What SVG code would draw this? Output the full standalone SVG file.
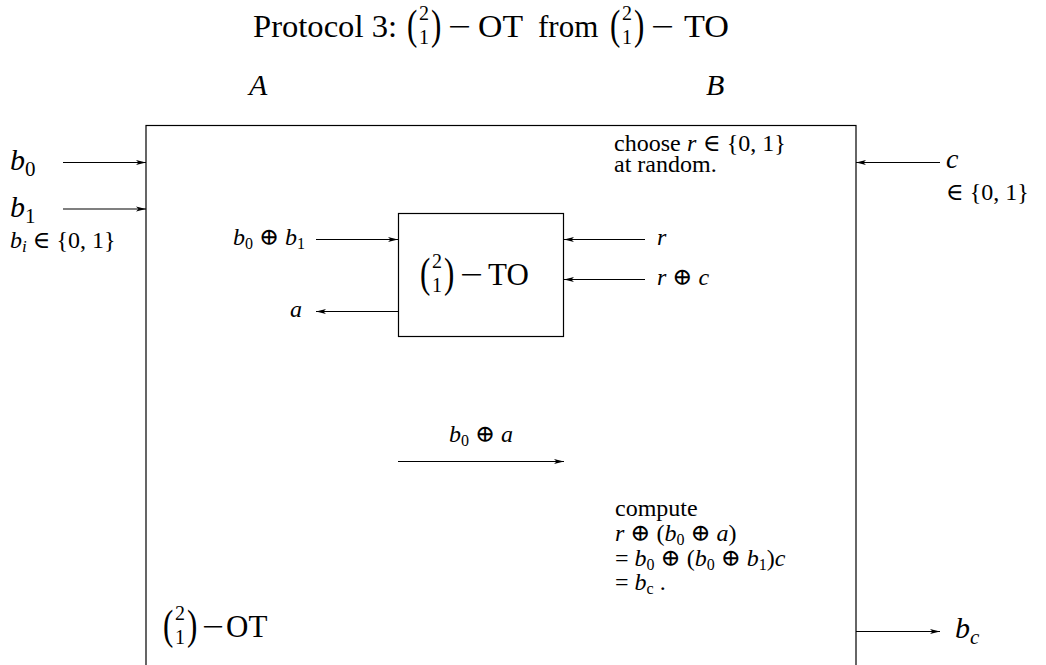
<svg xmlns="http://www.w3.org/2000/svg" width="1046" height="665" viewBox="0 0 1046 665">
<style>
text{font-family:"Liberation Serif","DejaVu Serif",serif;fill:#000}
.m{font-style:italic}
.t{font-size:31px}
.s{font-size:24px}
.d{font-size:20px}
.sub{font-size:16px;font-style:normal}
.bx{stroke:#000;stroke-width:1.2;fill:none}
.ar{stroke:#000;stroke-width:1.2;fill:none;marker-end:url(#ah)}
</style>
<defs>
<marker id="ah" viewBox="0 0 10 6" refX="10" refY="3" markerWidth="10" markerHeight="6" markerUnits="userSpaceOnUse" orient="auto">
<path d="M0,0.6 L10,3 L0,5.4 L2.5,3 Z" fill="#000"/>
</marker>
</defs>
<rect width="1046" height="665" fill="#fff"/>

<g id="title">
<text class="t" x="253" y="37" textLength="144" lengthAdjust="spacingAndGlyphs">Protocol 3:</text>
<text class="t" transform="matrix(1,0,0,1.35,407,39)">(</text>
<text class="d" x="424" y="20" text-anchor="middle">2</text>
<text class="d" x="424" y="44" text-anchor="middle">1</text>
<text class="t" transform="matrix(1,0,0,1.35,431,39)">)</text>
<text class="t" x="448" y="37" textLength="23" lengthAdjust="spacingAndGlyphs">−</text>
<text class="t" x="478" y="37" textLength="45" lengthAdjust="spacingAndGlyphs">OT</text>
<text class="t" x="538" y="37">from</text>
<text class="t" transform="matrix(1,0,0,1.35,610,39)">(</text>
<text class="d" x="627" y="20" text-anchor="middle">2</text>
<text class="d" x="627" y="44" text-anchor="middle">1</text>
<text class="t" transform="matrix(1,0,0,1.35,634,39)">)</text>
<text class="t" x="651" y="37" textLength="23" lengthAdjust="spacingAndGlyphs">−</text>
<text class="t" x="684" y="37" textLength="45" lengthAdjust="spacingAndGlyphs">TO</text>
</g>

<g id="party-A"><text class="m" font-size="30" x="249" y="95">A</text></g>
<g id="party-B"><text class="m" font-size="30" x="706" y="95">B</text></g>

<g id="ot-box">
<rect class="bx" x="146" y="125.5" width="710" height="600"/>
<text class="t" transform="matrix(1,0,0,1.35,163,639)">(</text>
<text class="d" x="180" y="620" text-anchor="middle">2</text>
<text class="d" x="180" y="644" text-anchor="middle">1</text>
<text class="t" transform="matrix(1,0,0,1.35,187,639)">)</text>
<text class="t" x="202" y="637" textLength="22" lengthAdjust="spacingAndGlyphs">−</text>
<text class="t" x="226" y="637">OT</text>
</g>

<g id="to-box">
<rect class="bx" x="398.5" y="213.5" width="165" height="123"/>
<text class="t" transform="matrix(1,0,0,1.35,420,287)">(</text>
<text class="d" x="437" y="268" text-anchor="middle">2</text>
<text class="d" x="437" y="292" text-anchor="middle">1</text>
<text class="t" transform="matrix(1,0,0,1.35,444,287)">)</text>
<text class="t" x="460" y="285" textLength="23" lengthAdjust="spacingAndGlyphs">−</text>
<text class="t" x="488" y="285">TO</text>
</g>

<g id="input-b">
<text class="m" x="10" y="170" font-size="30">b<tspan font-size="21" font-style="normal" dy="6">0</tspan></text>
<text class="m" x="10" y="217" font-size="30">b<tspan font-size="21" font-style="normal" dy="6">1</tspan></text>
<text class="s" x="10" y="248"><tspan class="m">b</tspan><tspan class="m" font-size="17" dy="4">i</tspan><tspan dy="-4"> ∈ {0, 1}</tspan></text>
</g>

<g id="input-c">
<text class="m" x="946" y="168" font-size="28">c</text>
<text class="s" x="946" y="200">∈ {0, 1}</text>
</g>

<g id="choose">
<text class="s" x="614" y="151">choose</text>
<text class="s m" x="687" y="151">r</text>
<text class="s" x="703" y="151">∈ {0, 1}</text>
<text class="s" x="614" y="172">at random.</text>
</g>

<g id="labels-to">
<text class="s" x="233" y="245"><tspan class="m">b</tspan><tspan class="sub" dy="4">0</tspan><tspan dy="-4"> ⊕ </tspan><tspan class="m">b</tspan><tspan class="sub" dy="4">1</tspan></text>
<text class="s m" x="657" y="245">r</text>
<text class="s" x="657" y="285"><tspan class="m">r</tspan> ⊕ <tspan class="m">c</tspan></text>
<text class="s m" x="290" y="317">a</text>
</g>

<g id="label-b0a">
<text class="s" x="449" y="442"><tspan class="m">b</tspan><tspan class="sub" dy="4">0</tspan><tspan dy="-4"> ⊕ </tspan><tspan class="m">a</tspan></text>
</g>

<g id="compute">
<text class="s" x="615" y="516">compute</text>
<text class="s" x="615" y="541"><tspan class="m">r</tspan> ⊕ (<tspan class="m">b</tspan><tspan class="sub" dy="4">0</tspan><tspan dy="-4"> ⊕ </tspan><tspan class="m">a</tspan>)</text>
<text class="s" x="615" y="566">= <tspan class="m">b</tspan><tspan class="sub" dy="4">0</tspan><tspan dy="-4"> ⊕ (</tspan><tspan class="m">b</tspan><tspan class="sub" dy="4">0</tspan><tspan dy="-4"> ⊕ </tspan><tspan class="m">b</tspan><tspan class="sub" dy="4">1</tspan><tspan dy="-4">)</tspan><tspan class="m">c</tspan></text>
<text class="s" x="615" y="590">= <tspan class="m">b</tspan><tspan class="sub m" dy="4">c</tspan><tspan dy="-4">  .</tspan></text>
</g>

<g id="output-bc">
<text class="m" x="955" y="638" font-size="30">b<tspan font-size="21" dy="6">c</tspan></text>
</g>

<g id="connectors">
<line class="ar" x1="63" y1="162.5" x2="146" y2="162.5"/>
<line class="ar" x1="63" y1="209" x2="146" y2="209"/>
<line class="ar" x1="940" y1="162.5" x2="856" y2="162.5"/>
<line class="ar" x1="316" y1="239.5" x2="398" y2="239.5"/>
<line class="ar" x1="645" y1="239.5" x2="564" y2="239.5"/>
<line class="ar" x1="645" y1="279.5" x2="564" y2="279.5"/>
<line class="ar" x1="398" y1="311.5" x2="316" y2="311.5"/>
<line class="ar" x1="398" y1="461.5" x2="564" y2="461.5"/>
<line class="ar" x1="856" y1="631.5" x2="940" y2="631.5"/>
</g>
</svg>
